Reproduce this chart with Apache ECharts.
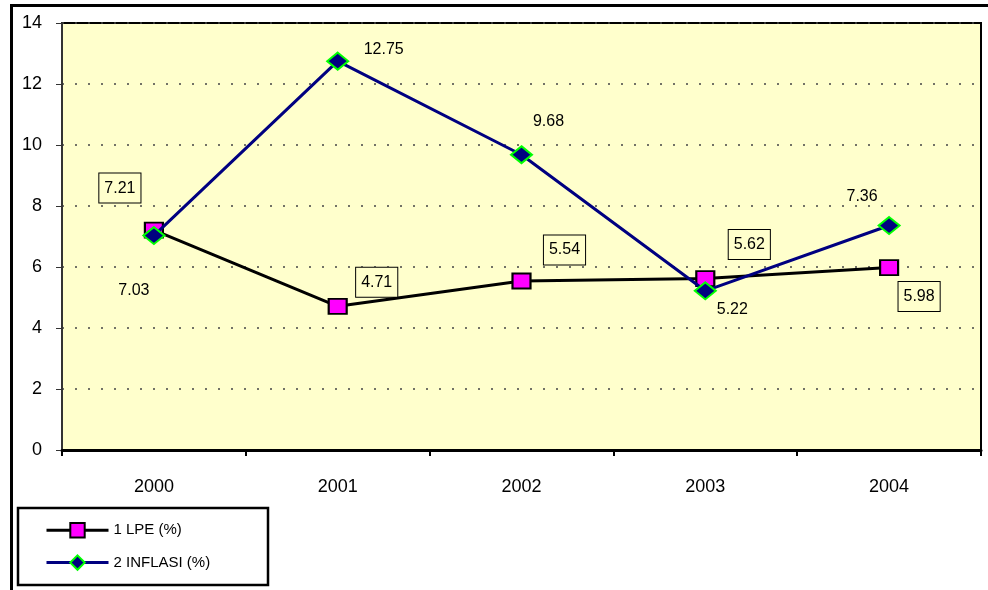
<!DOCTYPE html>
<html>
<head>
<meta charset="utf-8">
<script src="https://cdn.jsdelivr.net/npm/echarts@6/dist/echarts.min.js"></script>
<style>
  html, body { margin: 0; padding: 0; background: #fff; }
  #chart { width: 988px; height: 590px; }
</style>
</head>
<body>
<div id="chart"></div>
<script>
var years = ['2000', '2001', '2002', '2003', '2004'];
var lpe = [7.21, 4.71, 5.54, 5.62, 5.98];
var inflasi = [7.03, 12.75, 9.68, 5.22, 7.36];
var seriesNames = ['1 LPE (%)', '2 INFLASI (%)'];

// label placement, hand-tuned against the reference (px from the point)
var lpeLabelShift = [[-34, -42], [39, -24], [43, -31], [44, -34], [30, 29]];
var infLabelShift = [[-20, 55], [46, -12], [27, -33], [27, 19], [-27, -29]];

var font = 'Liberation Sans, Arial, sans-serif';

function with_labels(values, shifts, boxed)
{
    return values.map(function (v, i) {
	var lbl = {
	    show: true,
	    position: 'inside',
	    offset: shifts[i],
	    color: '#000',
	    fontFamily: font,
	    fontSize: 16,
	    formatter: function (p) { return p.value.toFixed(2); }
	};
	if (boxed) {
	    lbl.backgroundColor = '#FFFFCC';
	    lbl.borderColor = '#000';
	    lbl.borderWidth = 1;
	    lbl.padding = [7, 5, 6, 5];
	}
	return {value: v, label: lbl};
    });
}

var chart = echarts.init(document.getElementById('chart'));

chart.setOption({
    animation: false,
    textStyle: {fontFamily: font},
    grid: {
	left: 62, top: 23, width: 919, height: 427,
	show: true,
	backgroundColor: '#FFFFCC',
	borderColor: '#000',
	borderWidth: 2
    },
    xAxis: {
	type: 'category',
	data: years,
	boundaryGap: true,
	axisLine: {lineStyle: {color: '#000', width: 3}},
	axisTick: {show: true, length: 6, lineStyle: {color: '#000', width: 2}},
	axisLabel: {color: '#000', fontSize: 18, margin: 28, fontFamily: font},
	splitLine: {show: false}
    },
    yAxis: {
	type: 'value',
	min: 0, max: 14, interval: 2,
	axisLine: {show: true, lineStyle: {color: '#333', width: 2}},
	axisTick: {show: true, length: 6, lineStyle: {color: '#333', width: 1}},
	axisLabel: {color: '#000', fontSize: 18, margin: 20, fontFamily: font},
	splitLine: {show: true, lineStyle: {color: '#444', width: 1.5, type: [2, 11]}}
    },
    legend: {
	orient: 'vertical',
	left: 40, top: 517,
	itemWidth: 62, itemHeight: 18,
	itemGap: 16,
	textStyle: {color: '#000', fontSize: 15, fontFamily: font},
	lineStyle: {width: 3},
	data: seriesNames
    },
    graphic: [
	{
	    type: 'rect',
	    shape: {x: 11.5, y: 5.5, width: 1000, height: 600},
	    style: {fill: 'none', stroke: '#000', lineWidth: 3},
	    silent: true, z: -10
	},
	{
	    type: 'rect',
	    shape: {x: 18, y: 508, width: 250, height: 77},
	    style: {fill: 'none', stroke: '#000', lineWidth: 2.5},
	    silent: true
	}
    ],
    series: [
	{
	    name: seriesNames[0],
	    type: 'line',
	    data: with_labels(lpe, lpeLabelShift, true),
	    symbol: 'rect',
	    symbolSize: [18, 15],
	    lineStyle: {color: '#000', width: 3},
	    itemStyle: {color: '#FF00FF', borderColor: '#000', borderWidth: 2},
	    z: 2
	},
	{
	    name: seriesNames[1],
	    type: 'line',
	    data: with_labels(inflasi, infLabelShift, false),
	    symbol: 'diamond',
	    symbolSize: [21, 17],
	    lineStyle: {color: '#000080', width: 3},
	    itemStyle: {color: '#000080', borderColor: '#00FF00', borderWidth: 2},
	    z: 3
	}
    ]
});
</script>
</body>
</html>
